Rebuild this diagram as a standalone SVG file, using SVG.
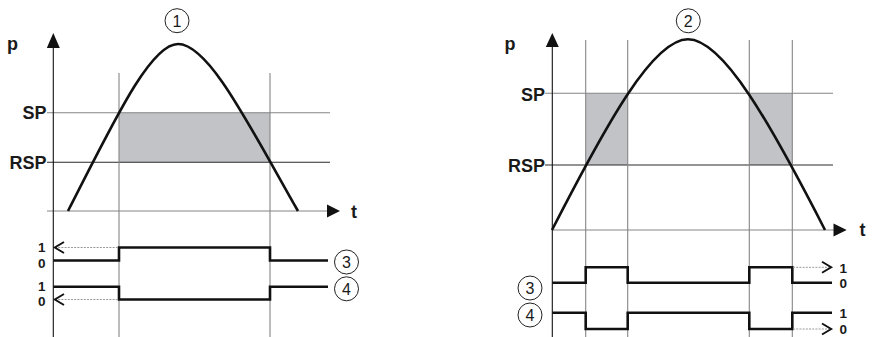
<svg xmlns="http://www.w3.org/2000/svg" width="873" height="337" viewBox="0 0 873 337">
<style>
.lbl{font-family:"Liberation Sans",Arial,sans-serif;font-weight:bold;font-size:18px;fill:#1a1a1a}
.bit{font-family:"Liberation Sans",Arial,sans-serif;font-weight:bold;font-size:13.5px;fill:#1a1a1a}
.num{font-family:"Liberation Sans",Arial,sans-serif;font-size:16px;fill:#1a1a1a}
.axis{stroke:#111;stroke-width:1.1;fill:none}
.grid{stroke:#858585;stroke-width:1.1;fill:none}
.gridd{stroke:#2a2a2a;stroke-width:1.1;fill:none}
.curve{stroke:#111;stroke-width:2.6;fill:none}
.sig{stroke:#111;stroke-width:2.6;fill:none;stroke-linejoin:miter}
.dash{stroke:#9a9a9a;stroke-width:1;stroke-dasharray:2 1.2;fill:none}
.chev{stroke:#111;stroke-width:1.9;fill:none}
.box{fill:#c2c3c7}
.circ{fill:#fff;stroke:#222;stroke-width:1}
.arrow{fill:#111}
</style>

<g id="left-chart">
  <rect class="box" x="119" y="112.7" width="151" height="49.6"/>
  <g id="left-grid">
    <line class="grid" x1="47" y1="112.7" x2="330" y2="112.7"/>
    <line class="gridd" x1="47" y1="162.3" x2="330" y2="162.3"/>
    <line class="grid" x1="47" y1="211" x2="328" y2="211"/>
    <line class="grid" x1="119" y1="73" x2="119" y2="337"/>
    <line class="grid" x1="270" y1="73" x2="270" y2="337"/>
  </g>
  <g id="left-axes">
    <line class="axis" x1="53.3" y1="46" x2="53.3" y2="337"/>
    <polygon class="arrow" points="53.3,33 46.8,48 59.8,48"/>
    <polygon class="arrow" points="340,211 327,204.5 327,217.5"/>
    <text class="lbl" x="7" y="50">p</text>
    <text class="lbl" x="351" y="218">t</text>
    <text class="lbl" x="46.5" y="118.5" text-anchor="end">SP</text>
    <text class="lbl" x="46.5" y="168.5" text-anchor="end">RSP</text>
  </g>
  <path class="curve" d="M68,211 C113,123.25 150,44 178,44 C209,44 249.5,126.1 298,211"/>
  <g id="left-signals">
    <path class="sig" d="M53.3,260.5 H119 V247.5 H270 V260.5 H328"/>
    <path class="sig" d="M53.3,286.7 H119 V299.5 H270 V286.7 H328"/>
    <line class="dash" x1="55" y1="247.5" x2="118" y2="247.5"/>
    <line class="dash" x1="55" y1="299.5" x2="118" y2="299.5"/>
    <polyline class="chev" points="64,242 54.8,247.5 64,253"/>
    <polyline class="chev" points="64,294 54.8,299.5 64,305"/>
    <text class="bit" x="45.5" y="252" text-anchor="end">1</text>
    <text class="bit" x="45.5" y="267.5" text-anchor="end">0</text>
    <text class="bit" x="45.5" y="290.5" text-anchor="end">1</text>
    <text class="bit" x="45.5" y="306" text-anchor="end">0</text>
  </g>
</g>

<g id="n1"><circle class="circ" cx="177" cy="20.7" r="12"/><text class="num" x="177" y="26.5" text-anchor="middle">1</text></g>
<g id="n3-left"><circle class="circ" cx="346.5" cy="262" r="12"/><text class="num" x="346.5" y="267.8" text-anchor="middle">3</text></g>
<g id="n4-left"><circle class="circ" cx="346.5" cy="288.8" r="12"/><text class="num" x="346.5" y="294.6" text-anchor="middle">4</text></g>

<g id="right-chart">
  <rect class="box" x="585.7" y="93.3" width="42" height="71.7"/>
  <rect class="box" x="749.3" y="93.3" width="43" height="71.7"/>
  <g id="right-grid">
    <line class="grid" x1="545" y1="93.3" x2="833" y2="93.3"/>
    <line class="gridd" x1="545" y1="165" x2="833" y2="165"/>
    <line class="grid" x1="552" y1="230" x2="834" y2="230"/>
    <line class="grid" x1="585.7" y1="40" x2="585.7" y2="337"/>
    <line class="grid" x1="627.7" y1="40" x2="627.7" y2="337"/>
    <line class="grid" x1="749.3" y1="40" x2="749.3" y2="337"/>
    <line class="grid" x1="792.3" y1="40" x2="792.3" y2="337"/>
  </g>
  <g id="right-axes">
    <line class="axis" x1="552.3" y1="44" x2="552.3" y2="337"/>
    <polygon class="arrow" points="552.3,33 545.8,47 558.8,47"/>
    <polygon class="arrow" points="846.7,230 833.5,223.5 833.5,236.5"/>
    <text class="lbl" x="504.5" y="50">p</text>
    <text class="lbl" x="859.5" y="236">t</text>
    <text class="lbl" x="545" y="100.5" text-anchor="end">SP</text>
    <text class="lbl" x="545" y="172" text-anchor="end">RSP</text>
  </g>
  <path class="curve" d="M552,230 C607,122.75 653,39.3 688,39.3 C723,39.3 770,122.75 825,230"/>
  <g id="right-signals">
    <path class="sig" d="M552.3,282.7 H585.7 V267.3 H627.7 V282.7 H749.3 V267.3 H792.3 V282.7 H832"/>
    <path class="sig" d="M552.3,312.7 H585.7 V329 H627.7 V312.7 H749.3 V329 H792.3 V312.7 H832"/>
    <line class="dash" x1="793" y1="267.3" x2="832" y2="267.3"/>
    <line class="dash" x1="793" y1="329" x2="832" y2="329"/>
    <polyline class="chev" points="822,261.8 831.2,267.3 822,272.8"/>
    <polyline class="chev" points="822,323.5 831.2,329 822,334.5"/>
    <text class="bit" x="839.5" y="272.5">1</text>
    <text class="bit" x="839.5" y="288">0</text>
    <text class="bit" x="839.5" y="318">1</text>
    <text class="bit" x="839.5" y="334">0</text>
  </g>
</g>

<g id="n2"><circle class="circ" cx="688.3" cy="20.8" r="12"/><text class="num" x="688.3" y="26.6" text-anchor="middle">2</text></g>
<g id="n3-right"><circle class="circ" cx="530" cy="288" r="12"/><text class="num" x="530" y="293.8" text-anchor="middle">3</text></g>
<g id="n4-right"><circle class="circ" cx="530" cy="315" r="12"/><text class="num" x="530" y="320.8" text-anchor="middle">4</text></g>
</svg>
